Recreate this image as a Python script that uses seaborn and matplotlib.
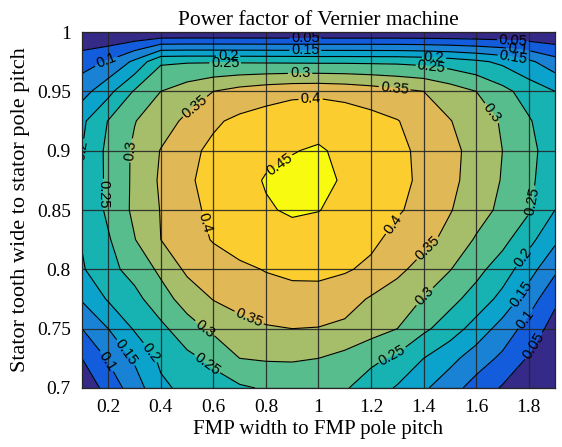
import numpy as np
import pandas as pd
import matplotlib
matplotlib.use("Agg")
import matplotlib.pyplot as plt
import seaborn as sns

# ---------------- data ----------------
x_vals = [0.1, 0.2, 0.3, 0.4, 0.5, 0.6, 0.7, 0.8, 0.9, 1.0,
          1.1, 1.2, 1.3, 1.4, 1.5, 1.6, 1.7, 1.8, 1.9]
y_vals = [0.700, 0.725, 0.750, 0.775, 0.800, 0.825, 0.850,
          0.875, 0.900, 0.925, 0.950, 0.975, 1.000]

pf_y0700 = [0.010, 0.070, 0.125, 0.190, 0.213, 0.228, 0.243, 0.255, 0.265, 0.270, 0.255, 0.225, 0.195, 0.158, 0.120, 0.080, 0.045, 0.020, 0.010]
pf_y0725 = [0.050, 0.105, 0.157, 0.210, 0.238, 0.262, 0.300, 0.305, 0.305, 0.300, 0.285, 0.262, 0.240, 0.200, 0.165, 0.125, 0.090, 0.045, 0.020]
pf_y0750 = [0.100, 0.150, 0.205, 0.238, 0.280, 0.310, 0.330, 0.345, 0.350, 0.348, 0.340, 0.320, 0.300, 0.260, 0.225, 0.180, 0.130, 0.080, 0.030]
pf_y0775 = [0.155, 0.205, 0.235, 0.280, 0.320, 0.352, 0.370, 0.382, 0.387, 0.385, 0.370, 0.345, 0.323, 0.298, 0.265, 0.230, 0.185, 0.125, 0.060]
pf_y0800 = [0.195, 0.235, 0.268, 0.310, 0.360, 0.378, 0.392, 0.402, 0.408, 0.410, 0.405, 0.390, 0.362, 0.330, 0.302, 0.265, 0.225, 0.170, 0.110]
pf_y0825 = [0.203, 0.245, 0.298, 0.350, 0.380, 0.403, 0.418, 0.430, 0.435, 0.434, 0.428, 0.410, 0.385, 0.365, 0.335, 0.295, 0.265, 0.215, 0.160]
pf_y0850 = [0.205, 0.260, 0.310, 0.352, 0.390, 0.408, 0.425, 0.446, 0.455, 0.451, 0.440, 0.425, 0.405, 0.385, 0.353, 0.322, 0.288, 0.256, 0.200]
pf_y0875 = [0.205, 0.260, 0.309, 0.357, 0.393, 0.416, 0.435, 0.453, 0.462, 0.462, 0.445, 0.429, 0.412, 0.391, 0.362, 0.330, 0.297, 0.260, 0.220]
pf_y0900 = [0.200, 0.262, 0.308, 0.352, 0.388, 0.410, 0.425, 0.440, 0.448, 0.455, 0.440, 0.425, 0.410, 0.390, 0.362, 0.335, 0.300, 0.265, 0.222]
pf_y0925 = [0.190, 0.252, 0.298, 0.328, 0.360, 0.393, 0.410, 0.420, 0.430, 0.432, 0.425, 0.415, 0.402, 0.378, 0.352, 0.325, 0.295, 0.255, 0.215]
pf_y0950 = [0.130, 0.185, 0.255, 0.300, 0.325, 0.350, 0.368, 0.380, 0.388, 0.390, 0.385, 0.375, 0.362, 0.350, 0.325, 0.300, 0.265, 0.228, 0.200]
pf_y0975 = [0.080, 0.105, 0.160, 0.243, 0.246, 0.246, 0.245, 0.244, 0.243, 0.242, 0.242, 0.241, 0.240, 0.235, 0.225, 0.210, 0.190, 0.160, 0.120]
pf_y1000 = [0.000, 0.000, 0.000, 0.000, 0.000, 0.000, 0.000, 0.000, 0.000, 0.000, 0.000, 0.000, 0.000, 0.000, 0.000, 0.000, 0.000, 0.000, 0.000]

contour_levels = [0.05, 0.10, 0.15, 0.20, 0.25, 0.30, 0.35, 0.40, 0.45]
x_ticks = [0.2, 0.4, 0.6, 0.8, 1.0, 1.2, 1.4, 1.6, 1.8]
x_ticklabels = ["0.2", "0.4", "0.6", "0.8", "1", "1.2", "1.4", "1.6", "1.8"]
y_ticks = [0.7, 0.75, 0.8, 0.85, 0.9, 0.95, 1.0]
y_ticklabels = ["0.7", "0.75", "0.8", "0.85", "0.9", "0.95", "1"]

title_text = "Power factor of Vernier machine"
xlabel_text = "FMP width to FMP pole pitch"
ylabel_text = "Stator tooth wide to stator pole pitch"

# ---------------- build table ----------------
rows = [pf_y0700, pf_y0725, pf_y0750, pf_y0775, pf_y0800, pf_y0825, pf_y0850,
        pf_y0875, pf_y0900, pf_y0925, pf_y0950, pf_y0975, pf_y1000]
df = pd.DataFrame(rows, index=y_vals, columns=x_vals)
X, Y = np.meshgrid(df.columns.values, df.index.values)
Z = df.values

# ---------------- style ----------------
sns.set_theme(style="white")
plt.rcParams['font.family'] = ['Liberation Serif', 'DejaVu Serif']

band_colors = ["#352a87", "#135ddc", "#1a82d5", "#0ba2cb", "#17b3b2",
               "#57bd8d", "#a6be6a", "#e0b956", "#fbcd2f", "#f8fa0f"]
fill_bounds = [-1.0] + contour_levels + [1.0]

fig = plt.figure(figsize=(5.62, 4.47), dpi=100)
ax = fig.add_axes([0.1459, 0.132, 0.8416, 0.7964])

ax.contourf(X, Y, Z, levels=fill_bounds, colors=band_colors, zorder=1)
cs = ax.contour(X, Y, Z, levels=contour_levels, colors="black",
                linewidths=0.8, zorder=3)

label_spots = [
    (0.95, 0.995), (0.95, 0.986), (0.19, 0.977), (0.656, 0.980), (0.645, 0.971),
    (0.93, 0.967), (1.29, 0.954), (0.53, 0.937), (0.97, 0.944), (1.44, 0.980),
    (1.43, 0.971), (1.74, 0.993), (1.76, 0.985), (1.74, 0.977), (1.65, 0.93),
    (0.10, 0.89), (0.29, 0.90), (0.18, 0.863), (0.847, 0.89), (0.53, 0.837),
    (1.29, 0.837), (1.41, 0.819), (1.795, 0.858), (1.78, 0.81), (0.73, 0.756),
    (0.55, 0.745), (1.40, 0.778), (0.256, 0.728), (0.19, 0.722), (0.35, 0.728),
    (0.557, 0.715), (1.28, 0.728), (1.78, 0.778), (1.80, 0.756), (1.83, 0.734),
]
ax.clabel(cs, inline=True, fontsize=10.5, fmt="%g", manual=label_spots,
          inline_spacing=3)
for t in cs.labelTexts:
    t.set_family(['Liberation Sans', 'DejaVu Sans'])

ax.set_xlim(0.1, 1.9)
ax.set_ylim(0.7, 1.0)
ax.set_xticks(x_ticks)
ax.set_xticklabels(x_ticklabels)
ax.set_yticks(y_ticks)
ax.set_yticklabels(y_ticklabels)
ax.tick_params(direction="in", length=4, labelsize=14, colors="black",
               pad=8)
ax.grid(True, color="#262626", linewidth=0.9, alpha=0.9)
ax.set_axisbelow(False)
for s in ax.spines.values():
    s.set_color("#262626")
    s.set_linewidth(0.9)
    s.set_zorder(5)

ax.set_title(title_text, fontsize=15.5, pad=5, color="black")
ax.set_xlabel(xlabel_text, fontsize=15, labelpad=3, color="black")
ax.set_ylabel(ylabel_text, fontsize=16, labelpad=5, color="black")

fig.savefig("out.png", dpi=100)
